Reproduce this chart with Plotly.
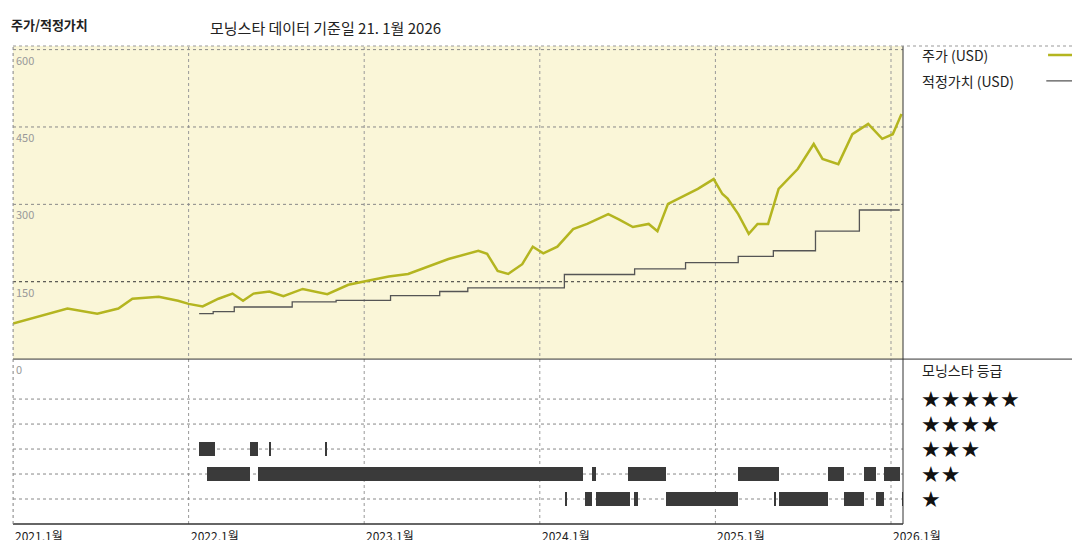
import plotly.graph_objects as go

price_t = [2021.00,2021.14,2021.31,2021.48,2021.60,2021.68,2021.83,2021.94,2022.00,2022.08,2022.17,2022.25,2022.31,2022.37,2022.46,2022.54,2022.65,2022.79,2022.91,2023.02,2023.14,2023.25,2023.36,2023.48,2023.65,2023.70,2023.76,2023.82,2023.90,2023.96,2024.02,2024.10,2024.19,2024.27,2024.39,2024.45,2024.53,2024.62,2024.67,2024.73,2024.79,2024.90,2024.99,2025.04,2025.07,2025.13,2025.19,2025.24,2025.30,2025.36,2025.47,2025.56,2025.61,2025.70,2025.78,2025.87,2025.95,2026.01,2026.06]
price_v = [69,82,98,88,98,117,121,113,107,102,117,127,113,127,131,122,136,126,144,152,160,165,179,194,210,204,171,165,184,218,205,218,252,262,281,271,256,262,248,301,311,330,349,320,311,281,243,262,262,330,369,417,388,378,436,456,427,436,475]

fair_t = [2022.06,2022.14,2022.26,2022.59,2022.84,2023.15,2023.43,2023.59,2024.14,2024.54,2024.83,2025.13,2025.33,2025.57,2025.82,2026.05]
fair_v = [88,92,101,111,114,123,131,138,164,175,187,199,210,248,289,289]

# rating intervals: (level, start, end)
rating_level = [3,3,3,3, 2,2,2,2,2,2,2,2, 1,1,1,1,1,1,1,1,1,1]
rating_start = [2022.059,2022.350,2022.458,2022.782, 2022.105,2022.395,2024.297,2024.502,2025.129,2025.641,2025.846,2025.960, 2024.149,2024.257,2024.320,2024.536,2024.719,2025.339,2025.362,2025.732,2025.915,2026.063]
rating_end   = [2022.150,2022.395,2022.469,2022.790, 2022.350,2024.246,2024.320,2024.719,2025.362,2025.732,2025.915,2026.051, 2024.157,2024.297,2024.514,2024.559,2025.129,2025.347,2025.641,2025.846,2025.960,2026.071]

years = [2021,2022,2023,2024,2025,2026]
year_labels = ["2021,1월","2022,1월","2023,1월","2024,1월","2025,1월","2026,1월"]
price_ticks = [150,300,450,600]
star_labels = ["★","★★","★★★","★★★★","★★★★★"]

XR = [2021.0, 2021 + (895-5)/175.6]
fig = go.Figure()
fig.add_trace(go.Scatter(x=price_t, y=price_v, mode="lines", line=dict(color="#B4B520", width=2.5), xaxis="x", yaxis="y2", showlegend=False))
fig.add_trace(go.Scatter(x=fair_t, y=fair_v, mode="lines", line=dict(color="#555555", width=1.3, shape="hv"), xaxis="x", yaxis="y2", showlegend=False))
fig.add_trace(go.Bar(y=rating_level, x=[e-s for s, e in zip(rating_start, rating_end)], base=rating_start,
                     orientation="h", width=0.55, marker=dict(color="#3a3a3a", line=dict(width=0)),
                     xaxis="x", yaxis="y", showlegend=False))

grid = dict(showgrid=False, zeroline=False, showticklabels=False, ticks="")
fig.update_layout(
    width=1080, height=540, margin=dict(l=5, r=185, t=38, b=24, pad=0, autoexpand=False),
    paper_bgcolor="white", plot_bgcolor="white", font=dict(family="Noto Sans CJK KR", color="#222"),
    xaxis=dict(range=XR, **grid),
    yaxis=dict(domain=[0, 0.345], range=[0, 6.6], **grid),
    yaxis2=dict(domain=[0.345, 1], range=[0, 607], **grid),
    bargap=0,
)
shapes = []
shapes.append(dict(type="rect", xref="paper", yref="y2 domain", x0=0, x1=1, y0=0, y1=1, fillcolor="#FAF6D8", line=dict(width=0), layer="below"))
for i, y in enumerate(years):
    shapes.append(dict(type="line", xref="x", yref="paper", x0=y, x1=y, y0=0, y1=1, line=dict(color="#999", width=1, dash="dot"), layer="below"))
for v in price_ticks:
    shapes.append(dict(type="line", xref="paper", yref="y2", x0=0, x1=1, y0=v, y1=v, line=dict(color="#333" if v == 150 else "#888", width=1, dash="dot"), layer="below"))
for l in range(1, 6):
    shapes.append(dict(type="line", xref="paper", yref="y", x0=0, x1=1, y0=l, y1=l, line=dict(color="#888", width=1, dash="dot"), layer="below"))
shapes.append(dict(type="line", xref="paper", yref="paper", x0=1, x1=1, y0=0, y1=1, line=dict(color="#333", width=1)))
shapes.append(dict(type="line", xref="paper", yref="paper", x0=0, x1=1.208, y0=0.345, y1=0.345, line=dict(color="#333", width=1)))
shapes.append(dict(type="line", xref="paper", yref="paper", x0=0, x1=1, y0=0, y1=0, line=dict(color="#333", width=1.5)))
shapes.append(dict(type="line", xref="paper", yref="paper", x0=0, x1=1.208, y0=1, y1=1, line=dict(color="#999", width=1, dash="dot")))
shapes.append(dict(type="line", xref="paper", yref="paper", x0=0, x1=0, y0=0, y1=1, line=dict(color="#999", width=1, dash="dot")))
shapes.append(dict(type="line", xref="paper", yref="paper", x0=1.163, x1=1.199, y0=0.981, y1=0.981, line=dict(color="#B4B520", width=2.5)))
shapes.append(dict(type="line", xref="paper", yref="paper", x0=1.161, x1=1.199, y0=0.927, y1=0.927, line=dict(color="#555", width=1.3)))
fig.update_layout(shapes=shapes)

ann = []
ann.append(dict(text="<b>주가/적정가치</b>", xref="paper", yref="paper", x=-0.005, y=1.045, xanchor="left", yanchor="middle", showarrow=False, font=dict(size=13)))
ann.append(dict(text="모닝스타 데이터 기준일 21. 1월 2026", xref="paper", yref="paper", x=0.219, y=1.038, xanchor="left", yanchor="middle", showarrow=False, font=dict(size=15)))
for v in price_ticks:
    ann.append(dict(text=str(v), xref="paper", yref="y2", x=0.001, y=v, xanchor="left", yanchor="top", showarrow=False, font=dict(size=11, color="#999")))
ann.append(dict(text="0", xref="paper", yref="y", x=0.001, y=6.6, xanchor="left", yanchor="top", showarrow=False, font=dict(size=11, color="#999")))
for y, t in zip(years, year_labels):
    ann.append(dict(text=t, xref="x", yref="paper", x=y, y=-0.002, xanchor="left", yanchor="top", showarrow=False, font=dict(size=12, family="Liberation Sans Narrow, Noto Sans CJK KR")))
ann.append(dict(text="주가 (USD)", xref="paper", yref="paper", x=1.019, y=0.981, xanchor="left", yanchor="middle", showarrow=False, font=dict(size=14)))
ann.append(dict(text="적정가치 (USD)", xref="paper", yref="paper", x=1.019, y=0.927, xanchor="left", yanchor="middle", showarrow=False, font=dict(size=14)))
ann.append(dict(text="모닝스타 등급", xref="paper", yref="paper", x=1.019, y=0.322, xanchor="left", yanchor="middle", showarrow=False, font=dict(size=14)))
for l, s in zip(range(1, 6), star_labels):
    ann.append(dict(text=s, xref="paper", yref="y", x=1.018, y=l, xanchor="left", yanchor="middle", showarrow=False, font=dict(size=22, color="#111", family="DejaVu Sans")))
fig.update_layout(annotations=ann)
fig.write_html("out.html")
